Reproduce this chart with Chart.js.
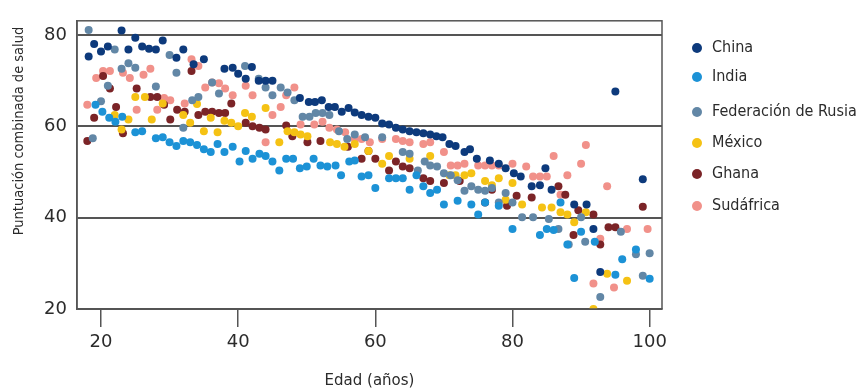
<!DOCTYPE html>
<html>
<head>
<meta charset="utf-8">
<script src="https://cdn.jsdelivr.net/npm/chart.js@4/dist/chart.umd.min.js"></script>
<style>
  body { margin: 0; background: #fff; }
  #wrap { position: relative; width: 863px; height: 391px; }
  #legend { position: absolute; left: 0; top: 0; font-family: "DejaVu Sans", sans-serif; font-stretch: condensed; font-size: 16px; color: #2b2b2b; }
  .item { position: absolute; left: 692px; height: 20px; line-height: 20px; white-space: nowrap; }
  .dot { display: inline-block; width: 10px; height: 10px; border-radius: 50%; margin-right: 10px; vertical-align: -1px; }
</style>
</head>
<body>
<div id="wrap">
  <canvas id="chart" width="863" height="391"></canvas>
  <div id="legend"></div>
</div>
<script>
// values: age (años) and combined health score
const chinaAge   = [18.2,19,20,21,23,24,25,26,27,28,29,31,32,33.5,35,38,39.2,40,41.1,42,43,44,45,49,50.3,51.2,52.2,53.2,54.1,55.1,56.1,57,58,59,60,61,62,63,64,65,66,67,68,68.9,69.8,70.8,71.7,73,73.8,74.8,76.7,78,79,80.2,81.2,82.8,84,84.8,85.7,89,90.8,91.8,92.8,95,99]
const chinaScore = [75.3,78,76.4,77.5,81,76.8,79.4,77.5,77,76.8,78.8,75,76.8,73.6,74.7,72.6,72.8,71.5,70.4,73,70,70,70,66.2,65.3,65.3,65.7,64.2,64.2,63.2,64,63,62.5,62.1,61.9,60.6,60.4,59.7,59.3,58.9,58.7,58.5,58.2,57.8,57.6,56.1,55.7,54.4,55,52.9,52.5,51.8,50.8,49.7,49,46.9,47.1,50.8,46.1,42.9,42.9,37.5,28.1,67.6,48.4]

const indiaAge   = [19.2,20.2,21.2,22.1,23.1,25,26,28,29,30,31,32,33,34,35,36,37,38,39.2,40.2,41.1,42.1,43.1,44,45,46,47,48,49,50,51,52,53,54.2,55,56.2,57,58,59,60,62,63,64,65,66,67,68,69,70,72,74,75,76,78,80,84,85,86,87,88,89,90,92,95,96,98,100]
const indiaScore = [64.7,63.2,61.9,61,62.1,58.7,58.9,57.4,57.6,56.5,55.7,56.8,56.5,55.9,55,54.4,56.1,54.4,55.5,52.3,54.6,52.9,54,53.5,52.3,50.3,52.9,52.9,50.8,51.2,52.9,51.4,51.2,51.4,49.3,52.3,52.5,49,49.3,46.5,48.6,48.6,48.6,46.1,49.3,46.9,45.4,46.1,42.9,43.7,42.9,40.7,43.3,42.6,37.5,36.2,37.5,37.3,43.3,34.1,26.8,36.9,34.7,27.5,30.9,33,26.6]

const rusiaAge   = [18.2,18.8,20,21,22,23,24,25,28,30,31,32,33.3,34.2,36.2,37.2,41,43,44,45,46.2,47.2,48.2,49.4,50.4,51.3,52.3,53.3,54.7,55.9,57,58.5,61,64,65,66.2,67.2,68,69,70,71,72,73,74,75,76,77,78,79,80,81.4,83,85.3,86.7,88.2,90,90.6,92.8,95.8,98,99,100]
const rusiaScore = [81.1,57.4,65.5,68.9,76.8,72.6,73.8,72.8,68.7,75.6,71.7,59.7,65.7,66.4,69.6,67.2,73.2,70.4,68.5,66.8,68.5,67.4,65.7,62.1,62.1,62.9,62.9,62.5,58.9,57.2,58.2,57.6,57.6,54.4,54,50.3,52.3,51.4,51.2,49.7,49.3,48.2,45.9,46.9,46.1,45.9,46.5,43.3,45.4,43.3,40.1,40.1,39.7,37.5,34.1,40.1,34.7,22.6,36.9,32,27.3,32.2]

const mexicoAge   = [22,23,24,25,26.4,27.4,29,32,33,34,35,36,37,38,39,40,41,42,44,46,47.2,48.2,49.1,50.1,53.4,54.4,55.5,57,59,61,62,65,68,70.8,71.7,73,74,76,77,78,79,80,81.4,84.3,85.7,87,88,89,90.7,91.8,93.8,96.7]
const mexicoScore = [62.5,59.3,61.5,66.4,66.4,61.5,65,62.5,60.8,64.9,58.9,61.9,58.7,61.2,60.8,60,62.9,62.1,64,56.5,58.9,58.7,58.2,57.8,56.5,56.1,55.5,56.1,54.6,51.8,53.5,52.9,53.5,49.3,49.3,49.3,49.7,48,47.1,48.6,43.9,47.6,42.9,42.2,42.2,41.2,40.7,39,41.2,20,27.7,26.2]

const ghanaAge   = [18,19,20.3,21.3,22.2,23.2,25.2,27.2,28.2,29.2,30.1,31.1,32.2,33.2,34.2,35.2,36.2,37.2,38.1,39,41.1,42.1,43.1,44,47,47.9,50.1,52,56,58,59,60,62,63,64,65,67,68,70,72.3,76,77,79.2,80.6,82.8,86.7,87.7,88.9,89.6,91.8,92.8,94,95,99]
const ghanaScore = [56.8,61.9,71,68.3,64.2,58.5,68.3,66.4,66.4,64.7,61.5,63.6,63.2,72.1,62.5,63.2,63.2,62.9,62.9,65,60.8,60,59.7,59.3,60.2,57.8,56.5,56.8,55.5,52.9,54.6,52.9,50.3,52.3,51.2,50.8,48.6,48,47.6,48,43.3,46.1,42.6,44.8,44.4,46.9,45,36.2,41.6,40.7,34.1,37.9,37.9,42.4]

const sudafricaAge   = [18,19.3,20.3,21.3,23.2,24.2,25.2,26.2,27.2,28.2,29.2,30.1,32.2,33.2,34.2,35.2,36.2,37.2,38.1,39.2,41.1,42.1,44,45,46.2,47,48.2,49.1,51.1,52.3,53.3,54.4,55.6,57,58,59.2,61,63,64,65,67,68,70,71,72,73,75,76,77,78,80,82,83,84,85,86,87,88,90,90.7,91.8,92.8,93.8,94.8,96.7,99.7]
const sudafricaScore = [64.7,70.6,72.1,72.1,71.7,70.6,63.6,71.3,72.6,63.6,66.2,65.7,65,74.7,73.2,68.5,69.6,69.4,68.3,66.8,68.9,66.8,56.5,62.5,64.2,66.8,68.5,60.4,60.4,61,59.7,59.3,58.7,57.2,57.2,56.5,57.2,57.2,56.8,56.5,56.1,56.5,54.4,51.4,51.4,51.8,51.4,51.4,51.4,51.4,51.8,51.2,49,49,49,53.5,45,49.3,51.8,55.9,25.6,35.4,46.9,24.7,37.5,37.5]

const xTicks = [20, 40, 60, 80, 100]
const yTicks = [20, 40, 60, 80]

const series = [
  { label: "China", ages: chinaAge, scores: chinaScore, color: "#0d3a7c" },
  { label: "India", ages: indiaAge, scores: indiaScore, color: "#1c92d6" },
  { label: "Federación de Rusia", ages: rusiaAge, scores: rusiaScore, color: "#6287a6" },
  { label: "México", ages: mexicoAge, scores: mexicoScore, color: "#f5c214" },
  { label: "Ghana", ages: ghanaAge, scores: ghanaScore, color: "#7b2427" },
  { label: "Sudáfrica", ages: sudafricaAge, scores: sudafricaScore, color: "#f1918a" }
]

const FAMILY = "'DejaVu Sans', sans-serif"
const INK = "#2b2b2b"
const LINE = "#555555"
const yTitle = "Puntuación combinada de salud"

// box around the plot area, and the y title placed where the original has it
const frame = {
  id: "frame",
  afterDatasetsDraw(chart) {
    const { ctx, chartArea: a } = chart
    ctx.save()
    ctx.strokeStyle = LINE
    ctx.lineWidth = 1.5
    ctx.strokeRect(a.left, a.top, a.right - a.left, a.bottom - a.top)
    ctx.restore()
  },
  afterDraw(chart) {
    const ctx = chart.ctx
    ctx.save()
    ctx.translate(19, 131)
    ctx.rotate(-Math.PI / 2)
    ctx.font = "condensed 14.5px " + FAMILY
    ctx.fillStyle = INK
    ctx.textAlign = "center"
    ctx.textBaseline = "middle"
    ctx.fillText(yTitle, 0, 0)
    ctx.restore()
  }
}

new Chart(document.getElementById("chart"), {
  type: "scatter",
  data: {
    datasets: series.map(s => ({
      label: s.label,
      data: s.ages.map((a, i) => ({ x: a, y: s.scores[i] })),
      backgroundColor: s.color,
      borderWidth: 0,
      pointRadius: 4,
      pointHoverRadius: 4
    }))
  },
  options: {
    responsive: false,
    animation: false,
    events: [],
    layout: { padding: { top: 12, right: 201, left: 0, bottom: 0 } },
    plugins: { legend: { display: false }, tooltip: { enabled: false } },
    scales: {
      x: {
        type: "linear",
        min: 16.5,
        max: 101.8,
        afterBuildTicks: s => { s.ticks = xTicks.map(v => ({ value: v })) },
        afterFit: s => { s.height = 82 },
        grid: { drawOnChartArea: false, drawTicks: true, tickLength: 18, color: LINE, lineWidth: 1.5 },
        border: { color: LINE, width: 1.5 },
        ticks: { color: INK, font: { family: FAMILY, style: "condensed", size: 18 }, padding: 5, maxRotation: 0 },
        title: { display: true, text: "Edad (años)", color: INK, font: { family: FAMILY, style: "condensed", size: 15 }, padding: { top: 0, bottom: 1 } }
      },
      y: {
        type: "linear",
        min: 20,
        max: 83.1,
        afterBuildTicks: s => { s.ticks = yTicks.map(v => ({ value: v })) },
        afterFit: s => { s.width = 77 },
        grid: { drawTicks: false, color: LINE, lineWidth: 2 },
        border: { color: LINE, width: 1.5 },
        ticks: { color: INK, font: { family: FAMILY, style: "condensed", size: 18 }, padding: 10 }
      }
    }
  },
  plugins: [frame]
})

// legend on the right
const legendY = [47, 76, 111, 142, 173, 205]
const legend = document.getElementById("legend")
series.forEach((s, i) => {
  const item = document.createElement("div")
  item.className = "item"
  item.style.top = (legendY[i] - 10) + "px"
  item.innerHTML = '<span class="dot" style="background:' + s.color + '"></span>' + s.label
  legend.appendChild(item)
})
</script>
</body>
</html>
